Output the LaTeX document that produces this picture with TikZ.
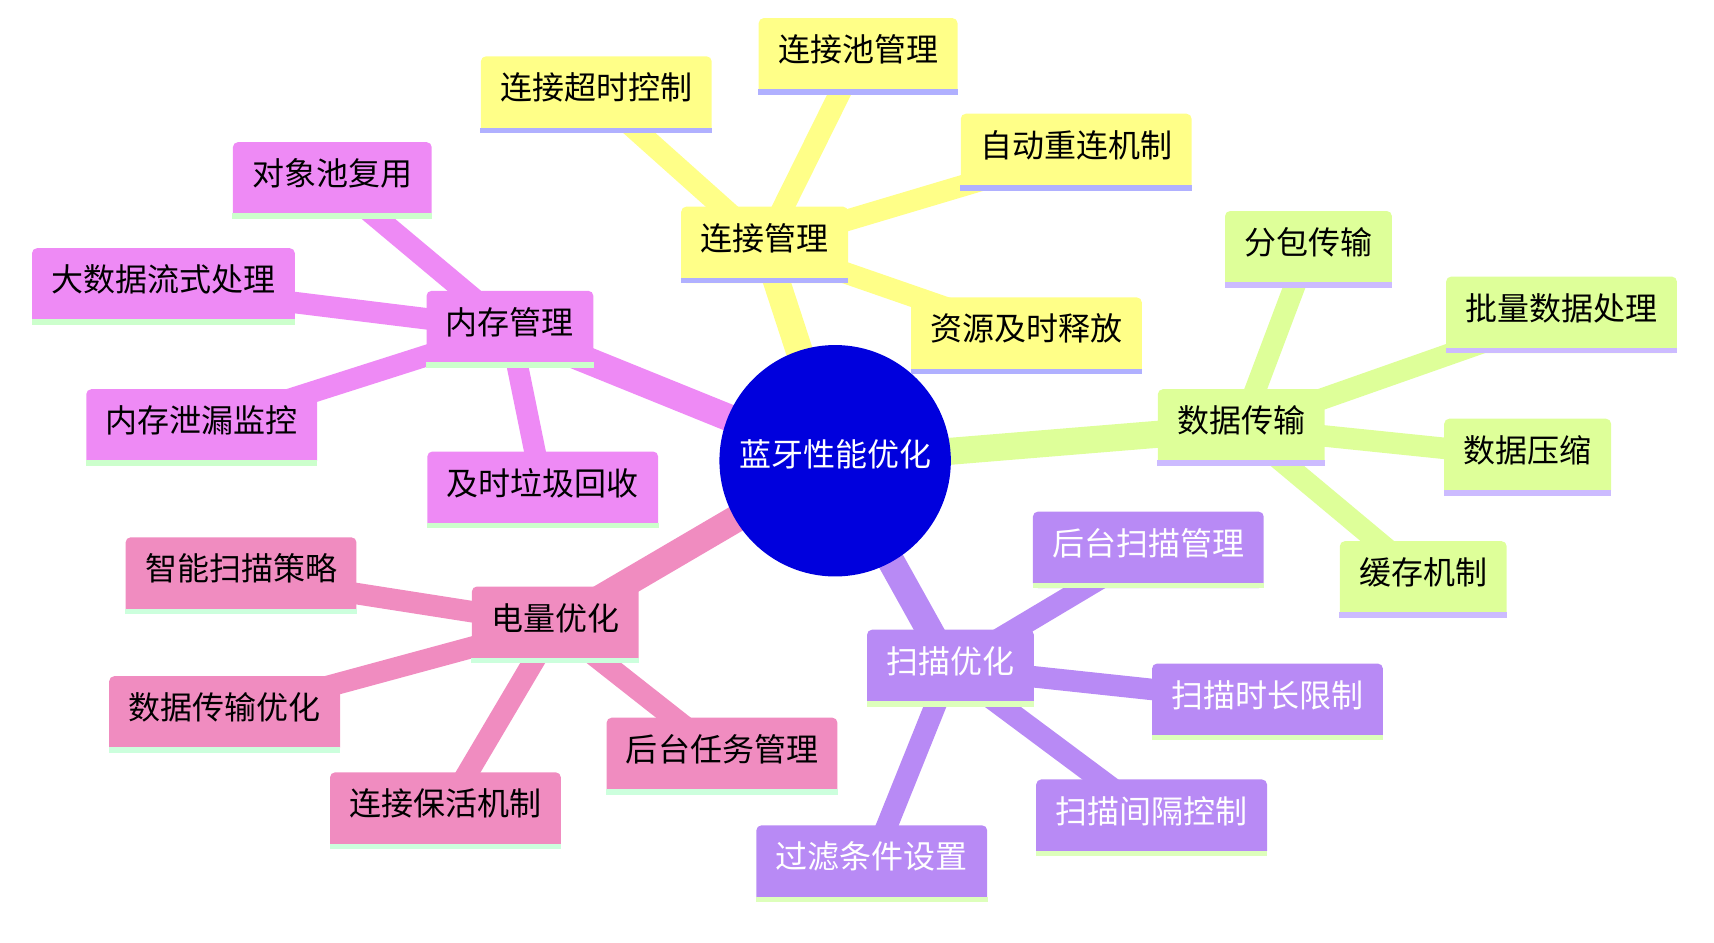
\documentclass[tikz,border=0pt]{standalone}
\usepackage{fontspec}
\newfontfamily\cjk{Noto Sans CJK SC}
\usetikzlibrary{backgrounds}
\definecolor{rootblue}{HTML}{0000DD}
\definecolor{fillY}{HTML}{FFFF88}
\definecolor{barY}{HTML}{B0B0FF}
\definecolor{fillG}{HTML}{DEFF99}
\definecolor{barG}{HTML}{CCBBFF}
\definecolor{fillP}{HTML}{B88AF5}
\definecolor{barP}{HTML}{DDFFBB}
\definecolor{fillK}{HTML}{F08CC0}
\definecolor{barK}{HTML}{CCFFDD}
\definecolor{fillM}{HTML}{EE8AF5}
\definecolor{barM}{HTML}{CCFFCC}
\tikzset{
  topic/.style={rectangle, rounded corners=2.5pt, fill=#1, inner xsep=9.7pt, inner ysep=0pt,
    text height=21.8pt, text depth=16.4pt},
  rootedge/.style={line width=13.5pt, draw=#1},
  subedge/.style={line width=10.75pt, draw=#1}
}
\begin{document}
\begin{tikzpicture}[x=0.5465pt, y=-0.5465pt, font=\cjk\fontsize{16}{18}\selectfont]
	\useasboundingbox (0,0) rectangle (1568,862);
	\node[circle, fill=rootblue, text=white, minimum size=115.7pt, inner sep=0pt,
		text height=14pt, text depth=8pt] (root) at (764,421.5) {蓝牙性能优化};
	% connection
	\node[topic=fillY] (conn) at (699.5,224) {连接管理};
	\node[topic=fillY] (timeout) at (545.5,86.5) {连接超时控制};
	\node[topic=fillY] (pool) at (785,51.5) {连接池管理};
	\node[topic=fillY] (reconnect) at (984.5,139) {自动重连机制};
	\node[topic=fillY] (release) at (939,307) {资源及时释放};
	% data
	\node[topic=fillG] (data) at (1135.5,391) {数据传输};
	\node[topic=fillG] (packet) at (1197,228) {分包传输};
	\node[topic=fillG] (batch) at (1428.5,288) {批量数据处理};
	\node[topic=fillG] (compress) at (1397.5,418) {数据压缩};
	\node[topic=fillG] (cache) at (1302,530) {缓存机制};
	% scan
	\node[topic=fillP, text=white] (scan) at (869.5,611) {扫描优化};
	\node[topic=fillP, text=white] (bgscan) at (1050.5,503) {后台扫描管理};
	\node[topic=fillP, text=white] (duration) at (1159.5,642) {扫描时长限制};
	\node[topic=fillP, text=white] (interval) at (1053.5,748) {扫描间隔控制};
	\node[topic=fillP, text=white] (filter) at (797.5,790) {过滤条件设置};
	% power
	\node[topic=fillK] (power) at (508,571.5) {电量优化};
	\node[topic=fillK] (smart) at (220.5,526.5) {智能扫描策略};
	\node[topic=fillK] (txopt) at (205.5,653.5) {数据传输优化};
	\node[topic=fillK] (keepalive) at (407.5,741.5) {连接保活机制};
	\node[topic=fillK] (bgtask) at (660.5,691.5) {后台任务管理};
	% memory
	\node[topic=fillM] (mem) at (466.5,301) {内存管理};
	\node[topic=fillM] (objpool) at (304,165) {对象池复用};
	\node[topic=fillM] (stream) at (149.5,262) {大数据流式处理};
	\node[topic=fillM] (leak) at (184.5,391) {内存泄漏监控};
	\node[topic=fillM] (gc) at (496.5,448) {及时垃圾回收};
	% bars under the boxes
	\foreach \n/\c in {conn/barY,timeout/barY,pool/barY,reconnect/barY,release/barY,
		data/barG,packet/barG,batch/barG,compress/barG,cache/barG,
		scan/barP,bgscan/barP,duration/barP,interval/barP,filter/barP,
		power/barK,smart/barK,txopt/barK,keepalive/barK,bgtask/barK,
		mem/barM,objpool/barM,stream/barM,leak/barM,gc/barM}
		\fill[\c] (\n.south west) rectangle ([yshift=2.8pt]\n.south east);
	% edges
	\begin{scope}[on background layer]
		\draw[rootedge=fillY] (root.center) -- (conn.center);
		\draw[rootedge=fillG] (root.center) -- (data.center);
		\draw[rootedge=fillP] (root.center) -- (scan.center);
		\draw[rootedge=fillK] (root.center) -- (power.center);
		\draw[rootedge=fillM] (root.center) -- (mem.center);
		\foreach \n in {timeout,pool,reconnect,release}
			\draw[subedge=fillY] (conn.center) -- (\n.center);
		\foreach \n in {packet,batch,compress,cache}
			\draw[subedge=fillG] (data.center) -- (\n.center);
		\foreach \n in {bgscan,duration,interval,filter}
			\draw[subedge=fillP] (scan.center) -- (\n.center);
		\foreach \n in {smart,txopt,keepalive,bgtask}
			\draw[subedge=fillK] (power.center) -- (\n.center);
		\foreach \n in {objpool,stream,leak,gc}
			\draw[subedge=fillM] (mem.center) -- (\n.center);
	\end{scope}
\end{tikzpicture}
\end{document}
